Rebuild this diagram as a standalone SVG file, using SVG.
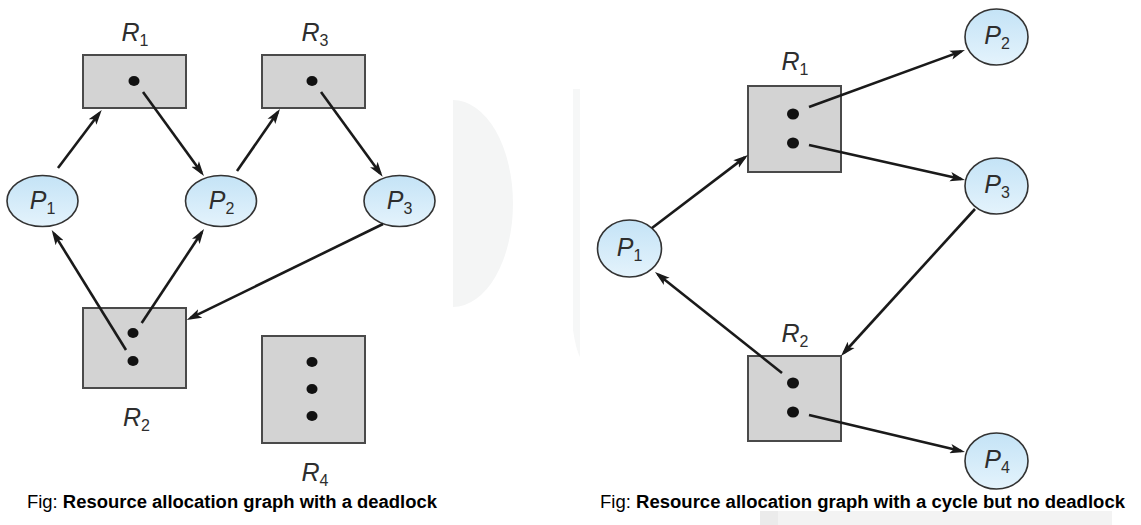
<svg xmlns="http://www.w3.org/2000/svg" width="1141" height="525" viewBox="0 0 1141 525">
  <defs>
    <linearGradient id="pg" x1="0" y1="0" x2="0" y2="1">
      <stop offset="0" stop-color="#c4e3f6"/>
      <stop offset="1" stop-color="#e4f3fc"/>
    </linearGradient>
    <marker id="arr" viewBox="0 0 15 10" markerWidth="15" markerHeight="10" refX="11" refY="5" markerUnits="userSpaceOnUse" orient="auto">
      <path d="M0,0.3 L15,5 L0,9.7 L3.5,5 Z" fill="#1a1a1a"/>
    </marker>
  </defs>
  <style>
    .res { fill: #d3d3d3; stroke: #4a4a4a; stroke-width: 2; }
    .proc { fill: url(#pg); stroke: #333; stroke-width: 1.6; }
    .dot { fill: #111; }
    .lbl { font-family: "Liberation Sans", Arial, sans-serif; font-style: italic; font-size: 25px; fill: #2e2e2e; }
    .sub { font-size: 16px; font-style: normal; }
    .edge { stroke: #1a1a1a; stroke-width: 2.6; fill: none; marker-end: url(#arr); }
    .cap { font-family: "Liberation Sans", Arial, sans-serif; font-size: 17.5px; fill: #000; }
  </style>
  <rect width="1141" height="525" fill="#ffffff"/>
  <!-- faint background artefacts -->
  <path d="M453,100 A60,103.5 0 0 1 453,307 Z" fill="#f4f5f5"/>
  <path d="M573,89 L580,89 L580,357 Q576,350 573,330 Z" fill="#f6f7f7"/>
  <rect x="760" y="511" width="352" height="14" fill="#f3f3f3"/>
  <rect x="760" y="511" width="18" height="14" fill="#ebebeb"/>

  <!-- left graph -->
  <g id="L_R1">
    <rect class="res" x="83" y="55" width="103" height="53"/>
    <ellipse class="dot" cx="134" cy="81" rx="5.5" ry="5"/>
    <text class="lbl" x="135" y="41" text-anchor="middle">R<tspan class="sub" dy="5">1</tspan></text>
  </g>
  <g id="L_R3">
    <rect class="res" x="262" y="55" width="103" height="53"/>
    <ellipse class="dot" cx="312" cy="81" rx="5.5" ry="5"/>
    <text class="lbl" x="315" y="41" text-anchor="middle">R<tspan class="sub" dy="5">3</tspan></text>
  </g>
  <g id="L_P1">
    <ellipse class="proc" cx="42.5" cy="201" rx="35.5" ry="25.5"/>
    <text class="lbl" x="42.5" y="209" text-anchor="middle">P<tspan class="sub" dy="5">1</tspan></text>
  </g>
  <g id="L_P2">
    <ellipse class="proc" cx="221" cy="201" rx="35.5" ry="25.5"/>
    <text class="lbl" x="221.5" y="209" text-anchor="middle">P<tspan class="sub" dy="5">2</tspan></text>
  </g>
  <g id="L_P3">
    <ellipse class="proc" cx="399.5" cy="201" rx="35.5" ry="25.5"/>
    <text class="lbl" x="399.5" y="209" text-anchor="middle">P<tspan class="sub" dy="5">3</tspan></text>
  </g>
  <g id="L_R2">
    <rect class="res" x="83" y="308" width="103" height="80"/>
    <ellipse class="dot" cx="133" cy="333" rx="5.5" ry="5"/>
    <ellipse class="dot" cx="133" cy="361" rx="5.5" ry="5"/>
    <text class="lbl" x="136.5" y="426" text-anchor="middle">R<tspan class="sub" dy="5">2</tspan></text>
  </g>
  <g id="L_R4">
    <rect class="res" x="262" y="336" width="103" height="107"/>
    <ellipse class="dot" cx="312" cy="362" rx="5.5" ry="5"/>
    <ellipse class="dot" cx="312" cy="389" rx="5.5" ry="5"/>
    <ellipse class="dot" cx="312" cy="416" rx="5.5" ry="5"/>
    <text class="lbl" x="315" y="481" text-anchor="middle">R<tspan class="sub" dy="5">4</tspan></text>
  </g>

  <!-- right graph -->
  <g id="R_R1">
    <rect class="res" x="748" y="86" width="93" height="86"/>
    <ellipse class="dot" cx="793" cy="114" rx="6" ry="5.5"/>
    <ellipse class="dot" cx="793" cy="143" rx="6" ry="5.5"/>
    <text class="lbl" x="795" y="70" text-anchor="middle">R<tspan class="sub" dy="5">1</tspan></text>
  </g>
  <g id="R_R2">
    <rect class="res" x="748" y="356" width="93" height="85"/>
    <ellipse class="dot" cx="793" cy="383" rx="6" ry="5.5"/>
    <ellipse class="dot" cx="793" cy="412" rx="6" ry="5.5"/>
    <text class="lbl" x="795" y="342" text-anchor="middle">R<tspan class="sub" dy="5">2</tspan></text>
  </g>
  <g id="R_P1">
    <ellipse class="proc" cx="629.5" cy="248.5" rx="32" ry="28.5"/>
    <text class="lbl" x="629.5" y="255.5" text-anchor="middle">P<tspan class="sub" dy="5">1</tspan></text>
  </g>
  <g id="R_P2">
    <ellipse class="proc" cx="996.5" cy="37" rx="31.5" ry="28"/>
    <text class="lbl" x="997" y="44" text-anchor="middle">P<tspan class="sub" dy="5">2</tspan></text>
  </g>
  <g id="R_P3">
    <ellipse class="proc" cx="996.5" cy="186" rx="31.5" ry="28"/>
    <text class="lbl" x="997" y="193" text-anchor="middle">P<tspan class="sub" dy="5">3</tspan></text>
  </g>
  <g id="R_P4">
    <ellipse class="proc" cx="996.5" cy="461" rx="31.5" ry="28"/>
    <text class="lbl" x="997" y="468" text-anchor="middle">P<tspan class="sub" dy="5">4</tspan></text>
  </g>

  <!-- connectors -->
  <g id="connectors">
    <line class="edge" x1="58" y1="168" x2="99.3" y2="113.2"/>
    <line class="edge" x1="143" y1="92" x2="201.6" y2="172.8"/>
    <line class="edge" x1="237" y1="171" x2="277.7" y2="112.3"/>
    <line class="edge" x1="321" y1="92" x2="380.3" y2="173.5"/>
    <line class="edge" x1="383" y1="224" x2="190.3" y2="318.2"/>
    <line class="edge" x1="126" y1="350" x2="53.8" y2="233.4"/>
    <line class="edge" x1="141.7" y1="323" x2="201.8" y2="232.3"/>
    <line class="edge" x1="652" y1="228" x2="744.8" y2="157.4"/>
    <line class="edge" x1="809" y1="107" x2="961.2" y2="51.4"/>
    <line class="edge" x1="809" y1="145" x2="961.1" y2="179.1"/>
    <line class="edge" x1="975" y1="209" x2="843.7" y2="353"/>
    <line class="edge" x1="782" y1="373" x2="658.1" y2="274.5"/>
    <line class="edge" x1="809" y1="415" x2="961.1" y2="451.1"/>
  </g>

  <!-- captions -->
  <text class="cap" x="27" y="508" textLength="410" lengthAdjust="spacingAndGlyphs">Fig: <tspan font-weight="bold">Resource allocation graph with a deadlock</tspan></text>
  <text class="cap" x="600" y="508" textLength="525" lengthAdjust="spacingAndGlyphs">Fig: <tspan font-weight="bold">Resource allocation graph with a cycle but no deadlock</tspan></text>
</svg>
